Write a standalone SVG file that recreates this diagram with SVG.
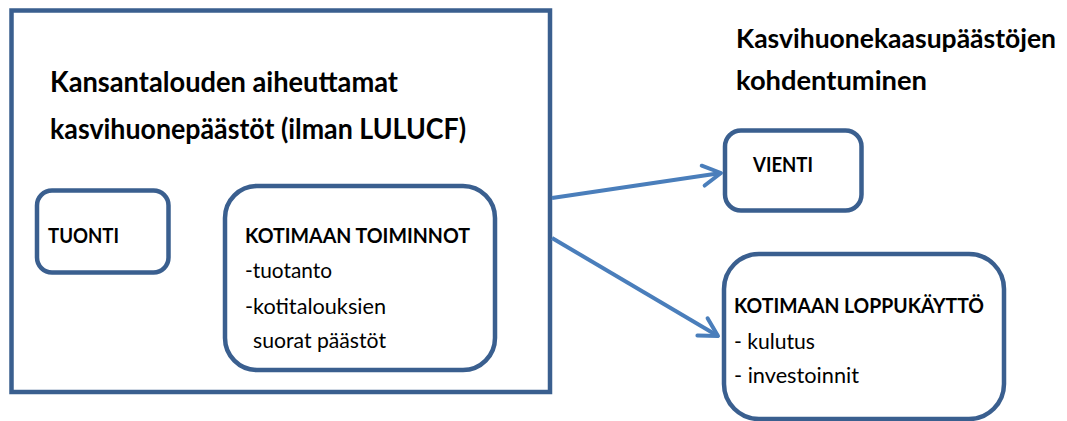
<svg xmlns="http://www.w3.org/2000/svg" width="1067" height="421" viewBox="0 0 1067 421">
  <style>
    .box { fill: #ffffff; stroke: #3A5F8F; stroke-width: 4.5; }
    .conn { fill: none; stroke: #4A7EBB; stroke-width: 4; }
    .t { font-family: Lato, "Liberation Sans", sans-serif; fill: #000000; }
    .title { font-size: 29px; font-weight: bold; }
    .rtitle { font-size: 27px; font-weight: bold; }
    .hdr { font-size: 21px; font-weight: bold; }
    .reg { font-size: 21.5px; }
  </style>
  <defs>
    <marker id="arrow" markerUnits="userSpaceOnUse" markerWidth="30" markerHeight="30" refX="0" refY="0" viewBox="-25 -15 30 30" orient="auto" overflow="visible">
      <path d="M -18 -10 L 0 0 L -18 10" fill="none" stroke="#4A7EBB" stroke-width="4" stroke-linecap="round" stroke-linejoin="round"/>
    </marker>
  </defs>
  <rect width="1067" height="421" fill="#ffffff"/>

  <g id="economy">
    <rect class="box" x="11.5" y="10.5" width="538.5" height="381.5"/>
    <text class="t title" x="50" y="92" textLength="348" lengthAdjust="spacingAndGlyphs">Kansantalouden aiheuttamat</text>
    <text class="t title" x="50" y="139" textLength="416" lengthAdjust="spacingAndGlyphs">kasvihuonepäästöt (ilman LULUCF)</text>
  </g>

  <g id="tuonti">
    <rect class="box" x="37" y="190.5" width="131.5" height="82" rx="15"/>
    <text class="t hdr" x="48" y="243" textLength="71" lengthAdjust="spacingAndGlyphs">TUONTI</text>
  </g>

  <g id="kotimaan-toiminnot">
    <rect class="box" x="225" y="186" width="270" height="184" rx="32"/>
    <text class="t hdr" x="245" y="243" textLength="225" lengthAdjust="spacingAndGlyphs">KOTIMAAN TOIMINNOT</text>
    <text class="t reg" x="245" y="278" textLength="87" lengthAdjust="spacingAndGlyphs">-tuotanto</text>
    <text class="t reg" x="245" y="314" textLength="141" lengthAdjust="spacingAndGlyphs">-kotitalouksien</text>
    <text class="t reg" x="253" y="348" textLength="133" lengthAdjust="spacingAndGlyphs">suorat päästöt</text>
  </g>

  <g id="right-title">
    <text class="t rtitle" x="736" y="48" textLength="320" lengthAdjust="spacingAndGlyphs">Kasvihuonekaasupäästöjen</text>
    <text class="t rtitle" x="736" y="90" textLength="191" lengthAdjust="spacingAndGlyphs">kohdentuminen</text>
  </g>

  <g id="vienti">
    <rect class="box" x="725" y="130.5" width="136.5" height="80" rx="16"/>
    <text class="t hdr" x="753" y="172" textLength="60" lengthAdjust="spacingAndGlyphs">VIENTI</text>
  </g>

  <g id="kotimaan-loppukaytto">
    <rect class="box" x="724" y="254" width="280" height="165" rx="35"/>
    <text class="t hdr" x="734" y="313" textLength="250" lengthAdjust="spacingAndGlyphs">KOTIMAAN LOPPUKÄYTTÖ</text>
    <text class="t reg" x="734" y="349" textLength="81" lengthAdjust="spacingAndGlyphs">- kulutus</text>
    <text class="t reg" x="734" y="383" textLength="125" lengthAdjust="spacingAndGlyphs">- investoinnit</text>
  </g>

  <g id="connectors">
    <line class="conn" x1="552" y1="198" x2="721" y2="173" marker-end="url(#arrow)"/>
    <line class="conn" x1="552" y1="238" x2="718" y2="336" marker-end="url(#arrow)"/>
  </g>
</svg>
